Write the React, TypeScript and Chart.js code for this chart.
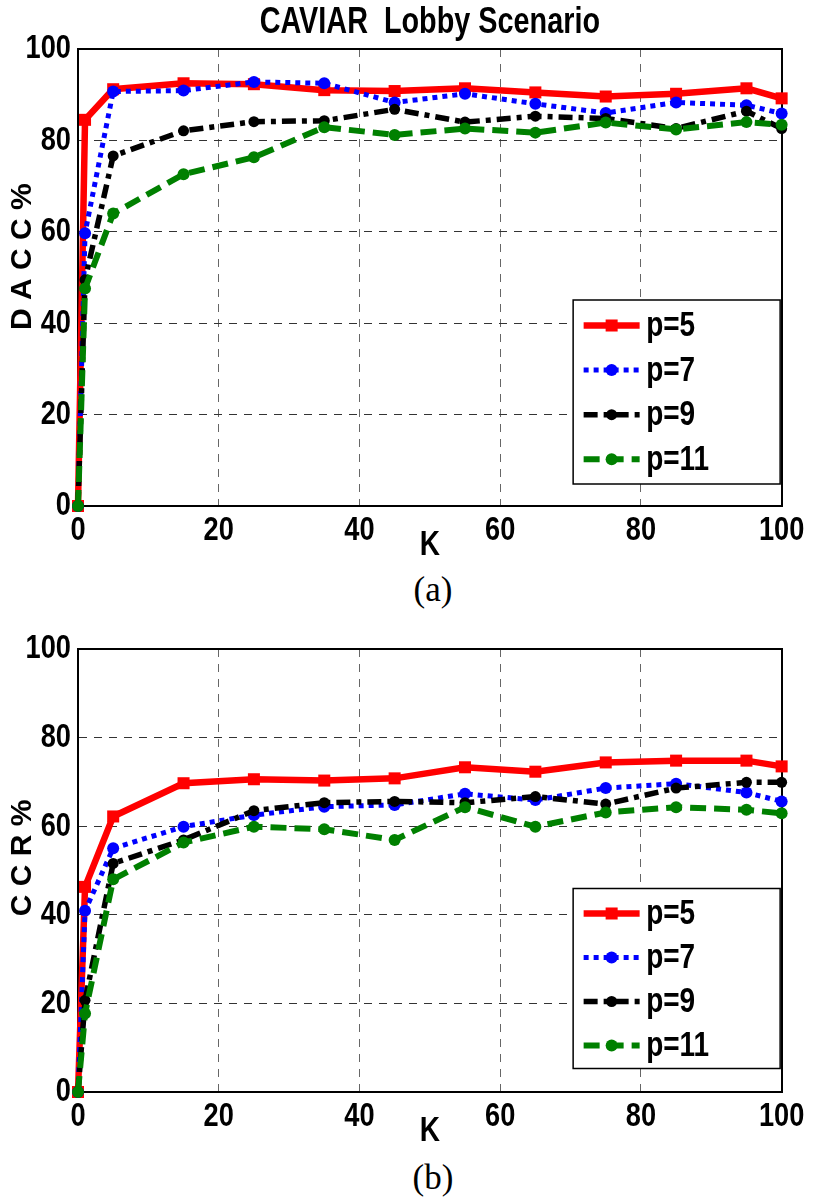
import React, { useEffect, useRef } from "react";
import { Chart, registerables } from "chart.js";

Chart.register(...registerables);

// ---------- data ----------
const K_VALUES = [0, 1, 5, 15, 25, 35, 45, 55, 65, 75, 85, 95, 100];
const SERIES_LABELS = ["p=5", "p=7", "p=9", "p=11"];

const DACC_P5 = [0, 84.5, 91.2, 92.5, 92.3, 91.0, 90.8, 91.4, 90.5, 89.6, 90.2, 91.4, 89.2];
const DACC_P7 = [0, 59.7, 90.7, 90.9, 92.8, 92.5, 88.3, 90.2, 88.0, 86.0, 88.3, 87.7, 85.9];
const DACC_P9 = [0, 49.5, 76.6, 82.1, 84.1, 84.3, 86.8, 84.0, 85.3, 84.8, 82.6, 86.4, 82.6];
const DACC_P11 = [0, 47.6, 64.0, 72.6, 76.3, 82.9, 81.2, 82.6, 81.7, 83.9, 82.4, 84.0, 83.4];

const CCR_P5 = [0, 46.3, 62.2, 69.7, 70.6, 70.3, 70.8, 73.3, 72.3, 74.4, 74.8, 74.8, 73.5];
const CCR_P7 = [0, 40.9, 55.0, 59.9, 62.5, 64.4, 64.8, 67.3, 65.9, 68.6, 69.6, 67.6, 65.6];
const CCR_P9 = [0, 20.7, 51.6, 56.9, 63.5, 65.3, 65.6, 65.3, 66.7, 65.0, 68.6, 69.9, 69.9];
const CCR_P11 = [0, 17.7, 48.0, 56.3, 59.9, 59.3, 56.9, 64.3, 59.9, 63.1, 64.3, 63.7, 62.9];

const X_MIN = 0;
const X_MAX = 100;
const X_STEP = 20;
const Y_MIN = 0;
const Y_MAX = 100;
const Y_STEP = 20;

const TITLE_TOP = "CAVIAR  Lobby Scenario";
const Y_TITLE_TOP = "     D A C C %";
const Y_TITLE_BOTTOM = "   C C R %";
const X_TITLE = "K";
const CAPTION_A = "(a)";
const CAPTION_B = "(b)";

// ---------- styles ----------
const FONT = '"Liberation Sans", Arial, Helvetica, sans-serif';
const FONT_WIDE = 'Arimo, "Liberation Sans", Arial, sans-serif'; // y-axis titles: not condensed
const TEXT_SCALE_X = 0.8; // narrow (condensed) look of the original figure text
const SERIF = '"Liberation Serif", "Times New Roman", "DejaVu Serif", serif';

const STYLES = [
  { color: "#ff0000", width: 6.5, dash: [], point: "rect", radius: 8.5, order: 3 },
  { color: "#0000ff", width: 5, dash: [5, 5], point: "circle", radius: 6, order: 2 },
  { color: "#000000", width: 5.5, dash: [14, 6, 5, 6], point: "circle", radius: 5.5, order: 1 },
  { color: "#008000", width: 6, dash: [16, 8], point: "circle", radius: 6, order: 0 },
];

function condenseText(ctx: any) {
  if (!ctx || ctx.__condensed) return;
  const orig = CanvasRenderingContext2D.prototype.fillText;
  ctx.fillText = function (text: string, x: number, y: number) {
    if (String(this.font).indexOf("Arimo") >= 0) {
      orig.call(this, text, x, y);
      return;
    }
    this.save();
    this.translate(x, y);
    this.scale(TEXT_SCALE_X, 1);
    orig.call(this, text, 0, 0);
    this.restore();
  };
  ctx.__condensed = true;
}

const centerTitle = {
  id: "centerTitle",
  afterDraw(chart: any, _args: any, opts: any) {
    if (!opts || !opts.text) return;
    const { ctx, chartArea } = chart;
    ctx.save();
    ctx.font = `bold ${opts.size}px ${FONT}`;
    ctx.fillStyle = "#000";
    ctx.textAlign = "center";
    ctx.textBaseline = "middle";
    ctx.fillText(opts.text, (chartArea.left + chartArea.right) / 2, opts.y);
    ctx.restore();
  },
};

const boxLegend = {
  id: "boxLegend",
  afterDatasetsDraw(chart: any, _args: any, o: any) {
    const { ctx, chartArea } = chart;
    const right = chartArea.right - o.marginRight;
    const bottom = chartArea.bottom - o.marginBottom;
    const left = right - o.width;
    const top = bottom - o.height;
    ctx.save();
    ctx.fillStyle = "#fff";
    ctx.fillRect(left, top, o.width, o.height);
    ctx.strokeStyle = "#000";
    ctx.lineWidth = 1.5;
    ctx.setLineDash([]);
    ctx.strokeRect(left, top, o.width, o.height);
    chart.data.datasets.forEach((ds: any, i: number) => {
      const cy = top + o.firstRow + i * o.rowGap;
      ctx.beginPath();
      ctx.setLineDash(ds.borderDash || []);
      ctx.lineWidth = ds.borderWidth;
      ctx.strokeStyle = ds.borderColor;
      ctx.lineCap = "butt";
      ctx.moveTo(left + o.lineStart, cy);
      ctx.lineTo(left + o.lineStart + o.lineLen, cy);
      ctx.stroke();
      ctx.setLineDash([]);
      const mx = left + o.lineStart + o.lineLen / 2;
      ctx.fillStyle = ds.pointBackgroundColor;
      ctx.beginPath();
      if (ds.pointStyle === "rect") {
        const s = Math.SQRT1_2 * ds.pointRadius;
        ctx.rect(mx - s, cy - s, 2 * s, 2 * s);
      } else {
        ctx.arc(mx, cy, ds.pointRadius, 0, Math.PI * 2);
      }
      ctx.fill();
      ctx.fillStyle = "#000";
      ctx.font = `bold ${o.fontSize}px ${FONT}`;
      ctx.textAlign = "left";
      ctx.textBaseline = "middle";
      ctx.fillText(ds.label, left + o.textX, cy + 1);
    });
    ctx.restore();
  },
};

type PanelProps = {
  top: number;
  height: number;
  topSpace: number;
  title: string;
  yTitle: string;
  series: number[][];
  legend: any;
};

function Panel({ top, height, topSpace, title, yTitle, series, legend }: PanelProps) {
  const ref = useRef<HTMLCanvasElement | null>(null);

  useEffect(() => {
    if (!ref.current) return;
    condenseText(ref.current.getContext("2d"));
    const tickFont = { family: FONT, size: 34, weight: "bold" as const };
    const chart = new Chart(ref.current, {
      type: "line",
      data: {
        datasets: series.map((vals, i) => ({
          label: SERIES_LABELS[i],
          data: K_VALUES.map((k, j) => ({ x: k, y: vals[j] })),
          borderColor: STYLES[i].color,
          backgroundColor: STYLES[i].color,
          borderWidth: STYLES[i].width,
          borderDash: STYLES[i].dash,
          borderJoinStyle: "miter" as const,
          pointStyle: STYLES[i].point as any,
          pointRadius: STYLES[i].radius,
          pointBorderWidth: 0,
          pointBackgroundColor: STYLES[i].color,
          order: STYLES[i].order,
          clip: false as any,
          tension: 0,
          fill: false,
        })),
      },
      options: {
        responsive: false,
        animation: false,
        devicePixelRatio: 1,
        layout: { padding: 0 },
        plugins: {
          legend: { display: false },
          tooltip: { enabled: false },
          title: { display: false },
          centerTitle: { text: title, size: 36, y: 23 },
          boxLegend: legend,
        } as any,
        scales: {
          x: {
            type: "linear",
            position: "bottom",
            min: X_MIN,
            max: X_MAX,
            ticks: { stepSize: X_STEP, padding: 4, color: "#000", font: tickFont, maxRotation: 0, autoSkip: false },
            grid: { color: "#666", lineWidth: 1, drawTicks: false },
            border: { display: true, color: "#000", width: 2, dash: [8, 7] },
            title: {
              display: true,
              text: X_TITLE,
              color: "#000",
              font: { family: FONT, size: 35, weight: "bold" },
              padding: { top: 0, bottom: 0 },
            },
            afterFit: (s: any) => {
              s.height = 60;
            },
          },
          y: {
            type: "linear",
            position: "left",
            min: Y_MIN,
            max: Y_MAX,
            ticks: { stepSize: Y_STEP, padding: 7, color: "#000", font: tickFont },
            grid: { color: "#333", lineWidth: 1, drawTicks: false },
            border: { display: true, color: "#000", width: 2, dash: [8, 7] },
            title: {
              display: true,
              text: yTitle,
              color: "#000",
              font: { family: FONT_WIDE, size: 30, weight: "bold" },
              padding: { top: 5, bottom: 0 },
            },
            afterFit: (s: any) => {
              s.width = 78;
            },
          },
          x2: {
            type: "linear",
            position: "top",
            display: true,
            ticks: { display: false },
            grid: { display: false, drawTicks: false },
            border: { display: true, color: "#000", width: 2 },
            afterFit: (s: any) => {
              s.height = topSpace;
            },
          },
          y2: {
            type: "linear",
            position: "right",
            display: true,
            ticks: { display: false },
            grid: { display: false, drawTicks: false },
            border: { display: true, color: "#000", width: 2 },
            afterFit: (s: any) => {
              s.width = 29;
            },
          },
        } as any,
      },
      plugins: [centerTitle, boxLegend],
    } as any);
    return () => chart.destroy();
  }, []);

  return (
    <canvas
      ref={ref}
      width={814}
      height={height}
      style={{ position: "absolute", left: 0, top, width: 814, height }}
    />
  );
}

export default function App() {
  const captionStyle = (top: number): React.CSSProperties => ({
    position: "absolute",
    left: 433,
    top,
    transform: "translateX(-50%)",
    fontFamily: SERIF,
    fontSize: 35,
    lineHeight: "35px",
    color: "#000",
    whiteSpace: "nowrap",
  });
  return (
    <div
      style={{
        position: "absolute",
        left: 0,
        top: 0,
        width: 814,
        height: 1204,
        background: "#fff",
        overflow: "hidden",
      }}
    >
      <Panel
        top={0}
        height={566}
        topSpace={49}
        title={TITLE_TOP}
        yTitle={Y_TITLE_TOP}
        series={[DACC_P5, DACC_P7, DACC_P9, DACC_P11]}
        legend={{
          width: 207,
          height: 184,
          marginRight: 1.5,
          marginBottom: 22,
          firstRow: 25.5,
          rowGap: 44.6,
          lineStart: 10.5,
          lineLen: 56,
          textX: 73,
          fontSize: 35,
        }}
      />
      <div style={captionStyle(572)}>{CAPTION_A}</div>
      <Panel
        top={620}
        height={532}
        topSpace={29}
        title=""
        yTitle={Y_TITLE_BOTTOM}
        series={[CCR_P5, CCR_P7, CCR_P9, CCR_P11]}
        legend={{
          width: 207,
          height: 180,
          marginRight: 1.5,
          marginBottom: 23.5,
          firstRow: 25,
          rowGap: 44,
          lineStart: 10.5,
          lineLen: 56,
          textX: 73,
          fontSize: 35,
        }}
      />
      <div style={captionStyle(1160)}>{CAPTION_B}</div>
    </div>
  );
}
